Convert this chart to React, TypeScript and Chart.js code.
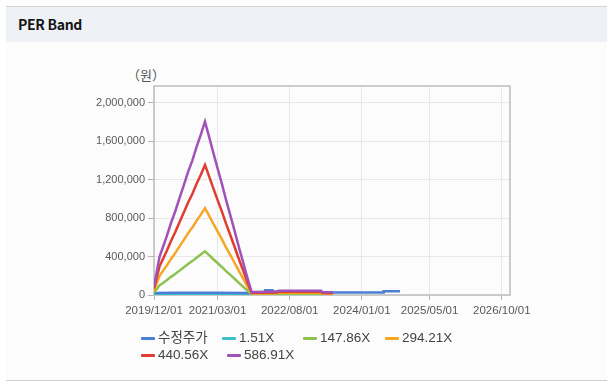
import React, { useEffect, useRef } from 'react';
import { Chart, registerables } from 'chart.js';

Chart.register(...registerables);

// ---- data ----
const bandDates = [
  '2019-12-01', '2020-01-10', '2020-02-01', '2020-03-01', '2020-04-01', '2020-05-01',
  '2020-06-01', '2020-07-01', '2020-08-01', '2020-09-01', '2020-10-01', '2020-11-01',
  '2020-12-01', '2021-01-01', '2021-02-01', '2021-03-01', '2021-04-01', '2021-05-01',
  '2021-06-01', '2021-07-01', '2021-08-01', '2021-09-01', '2021-10-01', '2021-11-01',
  '2021-12-01', '2022-04-30', '2022-05-15', '2023-03-15', '2023-03-25', '2023-06-08',
];
const band58691 = [
  90000, 400000, 490000, 610000, 750000, 870000,
  1010000, 1140000, 1280000, 1400000, 1540000, 1670000,
  1805000, 1640000, 1470000, 1320000, 1160000, 990000,
  830000, 670000, 500000, 340000, 180000, 30000,
  32000, 36000, 45000, 45000, 28000, 28000,
];
const band44056 = [
  68000, 300000, 368000, 458000, 563000, 653000,
  758000, 856000, 961000, 1051000, 1156000, 1253000,
  1355000, 1231000, 1103000, 991000, 871000, 743000,
  623000, 503000, 375000, 255000, 135000, 23000,
  24000, 27000, 34000, 34000, 21000, 21000,
];
const band29421 = [
  45000, 200000, 246000, 306000, 376000, 436000,
  506000, 571000, 642000, 702000, 772000, 837000,
  905000, 822000, 737000, 662000, 582000, 496000,
  416000, 336000, 251000, 170000, 90000, 15000,
  16000, 18000, 23000, 23000, 14000, 14000,
];
const band14786 = [
  23000, 101000, 123000, 154000, 189000, 219000,
  254000, 287000, 322000, 353000, 388000, 421000,
  455000, 413000, 370000, 333000, 292000, 249000,
  209000, 169000, 126000, 86000, 45000, 8000,
  8000, 9000, 11000, 11000, 7000, 7000,
];
const band151 = [
  230, 1030, 1260, 1570, 1930, 2240,
  2600, 2930, 3290, 3600, 3960, 4300,
  4640, 4220, 3780, 3400, 2980, 2550,
  2140, 1720, 1290, 870, 460, 80,
  80, 90, 120, 120, 70, 70,
];
const priceDates = [
  '2019-12-01', '2020-06-01', '2021-01-01', '2021-11-01', '2022-02-01', '2022-02-05',
  '2022-03-31', '2022-04-05', '2023-06-01', '2024-06-01', '2024-06-05', '2024-10-01',
];
const priceValues = [
  22000, 23000, 24000, 22000, 24000, 50000,
  50000, 26000, 25000, 26000, 40000, 40000,
];
const xTickLabels = ['2019/12/01', '2021/03/01', '2022/08/01', '2024/01/01', '2025/05/01', '2026/10/01'];
const yTickValues = [0, 400000, 800000, 1200000, 1600000, 2000000];
const xMinDate = '2019-12-01';
const xMaxDate = '2026-11-29';
const yMax = 2177000;

const seriesNames = ['수정주가', '1.51X', '147.86X', '294.21X', '440.56X', '586.91X'];
const seriesColors = ['#4a7fd4', '#3cc0cc', '#8dc152', '#f5a623', '#e03c31', '#a052b8'];

function toMs(s: string): number {
  const [y, m, d] = s.split(/[-/]/).map(Number);
  return Date.UTC(y, m - 1, d);
}
function pad(n: number) {
  return n < 10 ? '0' + n : '' + n;
}
function fmtDate(ms: number): string {
  const d = new Date(ms);
  return `${d.getUTCFullYear()}/${pad(d.getUTCMonth() + 1)}/${pad(d.getUTCDate())}`;
}
function pts(dates: string[], vals: number[]) {
  return dates.map((d, i) => ({ x: toMs(d), y: vals[i] }));
}

const framePlugin = {
  id: 'frame',
  beforeDatasetsDraw(chart: any) {
    const { ctx, chartArea } = chart;
    const { left, top, right, bottom } = chartArea;
    ctx.save();
    ctx.strokeStyle = '#bdbdbd';
    ctx.lineWidth = 1.5;
    ctx.strokeRect(left, top, right - left, bottom - top);
    ctx.restore();
  },
};

export default function App() {
  const ref = useRef<HTMLCanvasElement | null>(null);

  useEffect(() => {
    if (!ref.current) return;
    const seriesData = [
      pts(priceDates, priceValues),
      pts(bandDates, band151),
      pts(bandDates, band14786),
      pts(bandDates, band29421),
      pts(bandDates, band44056),
      pts(bandDates, band58691),
    ];
    const orders = [4, 5, 3, 2, 1, 0];
    const chart = new Chart(ref.current, {
      type: 'line',
      data: {
        datasets: seriesData.map((data, i) => ({
          label: seriesNames[i],
          data,
          borderColor: seriesColors[i],
          backgroundColor: seriesColors[i],
          borderWidth: 2.5,
          pointRadius: 0,
          tension: 0,
          fill: false,
          order: orders[i],
        })),
      },
      options: {
        responsive: false,
        animation: false,
        devicePixelRatio: 1,
        layout: { padding: { top: 86, right: 97, left: 0, bottom: 0 } },
        plugins: { legend: { display: false }, tooltip: { enabled: false } },
        scales: {
          x: {
            type: 'linear',
            min: toMs(xMinDate),
            max: toMs(xMaxDate),
            bounds: 'data',
            afterBuildTicks: (s: any) => {
              s.ticks = xTickLabels.map((t) => ({ value: toMs(t) }));
            },
            afterFit: (s: any) => {
              s.height = 95;
            },
            ticks: {
              callback: (v: any) => fmtDate(Number(v)),
              autoSkip: false,
              maxRotation: 0,
              minRotation: 0,
              padding: 4,
              color: '#595959',
              font: { family: '"Liberation Sans", Arial, sans-serif', size: 11.5 },
            },
            grid: { color: '#e8e8e8', tickColor: '#b5b5b5', tickLength: 5 },
            border: { display: false },
          },
          y: {
            type: 'linear',
            min: 0,
            max: yMax,
            bounds: 'data',
            afterBuildTicks: (s: any) => {
              s.ticks = yTickValues.map((v) => ({ value: v }));
            },
            afterFit: (s: any) => {
              s.width = 154;
            },
            ticks: {
              callback: (v: any) => Number(v).toLocaleString('en-US'),
              padding: 3,
              color: '#595959',
              font: { family: '"Liberation Sans", Arial, sans-serif', size: 11 },
            },
            grid: { color: '#e8e8e8', tickColor: '#b5b5b5', tickLength: 6 },
            border: { display: false },
          },
        },
      } as any,
      plugins: [framePlugin],
    });
    return () => chart.destroy();
  }, []);

  const legendRows = [
    [
      { i: 0, left: 141 },
      { i: 1, left: 222 },
      { i: 2, left: 303 },
      { i: 3, left: 385 },
    ],
    [
      { i: 4, left: 141 },
      { i: 5, left: 227 },
    ],
  ];
  const rowCenters = [338, 355];

  return (
    <div style={{ position: 'absolute', left: 0, top: 0, width: 607, height: 390, background: '#ffffff', overflow: 'hidden' }}>
      <div
        style={{
          position: 'absolute', left: 6, top: 6, width: 601, height: 35,
          background: '#eef2f7', borderTop: '1px solid #d4d4d4',
        }}
      />
      <div
        style={{
          position: 'absolute', left: 6, top: 42, width: 601, height: 338,
          background: '#fcfcfc', borderBottom: '1px solid #d0d0d0',
        }}
      />
      <div
        style={{
          position: 'absolute', left: 18, top: 17, lineHeight: '15px', fontSize: 14,
          fontWeight: 700, color: '#151515', fontFamily: '"Noto Sans CJK KR", "Noto Sans", sans-serif',
          whiteSpace: 'nowrap', letterSpacing: '-0.3px',
        }}
      >
        PER Band
      </div>
      <div
        style={{
          position: 'absolute', left: 127, top: 68, lineHeight: '14px', fontSize: 13,
          color: '#555', fontFamily: '"Noto Sans CJK KR", sans-serif', whiteSpace: 'nowrap',
        }}
      >
        （원）
      </div>
      <canvas ref={ref} width={607} height={390} style={{ position: 'absolute', left: 0, top: 0 }} />
      {legendRows.map((row, r) =>
        row.map((it) => (
          <div
            key={it.i}
            style={{
              position: 'absolute', left: it.left, top: rowCenters[r] - 8, height: 16,
              display: 'flex', alignItems: 'center', whiteSpace: 'nowrap',
              fontFamily: '"Liberation Sans", "Noto Sans CJK KR", sans-serif', fontSize: 13.5,
              lineHeight: '16px', color: '#444',
            }}
          >
            <span style={{ display: 'inline-block', width: 14, height: 3, background: seriesColors[it.i], marginRight: 3, borderRadius: 1 }} />
            <span>{seriesNames[it.i]}</span>
          </div>
        ))
      )}
    </div>
  );
}
